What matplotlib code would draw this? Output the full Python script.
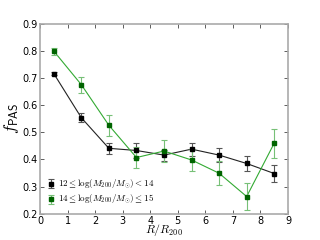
import numpy as np
import matplotlib
matplotlib.use('Agg')
import matplotlib.pyplot as plt

plt.rcParams['mathtext.fontset'] = 'cm'

# radial bins (R/R200)
r_bins = [0.5, 1.5, 2.5, 3.5, 4.5, 5.5, 6.5, 7.5, 8.5]

# 12 <= log(M200/Msun) < 14
f_low = [0.717, 0.554, 0.441, 0.433, 0.416, 0.438, 0.416, 0.385, 0.348]
err_low = [0.007, 0.016, 0.020, 0.027, 0.020, 0.024, 0.026, 0.027, 0.032]

# 14 <= log(M200/Msun) <= 15
f_high = [0.800, 0.676, 0.526, 0.407, 0.431, 0.398, 0.349, 0.263, 0.460]
err_high = [0.013, 0.029, 0.039, 0.039, 0.040, 0.042, 0.044, 0.051, 0.053]

fig = plt.figure(figsize=(3.2, 2.4), dpi=100)
ax = fig.add_axes([0.125, 0.11, 0.775, 0.79])

ax.plot(r_bins, f_low, color='#222222', lw=0.8)
ax.errorbar(r_bins, f_low, yerr=err_low, fmt='s', ms=2.2, color='black',
            ecolor='#555555', elinewidth=0.8, capsize=2, capthick=0.8,
            label=r'$12 \leq \log(M_{200}/M_{\odot}) < 14$')

ax.plot(r_bins, f_high, color='#33aa33', lw=0.8)
ax.errorbar(r_bins, f_high, yerr=err_high, fmt='s', ms=2.2, color='#006400',
            ecolor='#77c077', elinewidth=0.8, capsize=2, capthick=0.8,
            label=r'$14 \leq \log(M_{200}/M_{\odot}) \leq 15$')

ax.set_xlim(0, 9)
ax.set_ylim(0.2, 0.9)
ax.set_xticks(range(0, 10))
ax.set_yticks([0.2, 0.3, 0.4, 0.5, 0.6, 0.7, 0.8, 0.9])
ax.tick_params(direction='in', top=True, right=True, labelsize=7, length=3,
               width=0.6, pad=1.5, color='#444444')
for s in ax.spines.values():
    s.set_color('#aaaaaa')
    s.set_linewidth(1.2)

ax.set_xlabel(r'$R/R_{200}$', fontsize=8.5)
ax.xaxis.set_label_coords(0.5, -0.045)
ax.set_ylabel(r'$f_{\mathsf{PAS}}$', fontsize=12, labelpad=1)

ax.legend(loc='lower left', frameon=False, fontsize=6.5, handlelength=0.8,
          handletextpad=0.4, borderaxespad=0.4, labelspacing=0.25)

fig.savefig('out.png', dpi=100)
